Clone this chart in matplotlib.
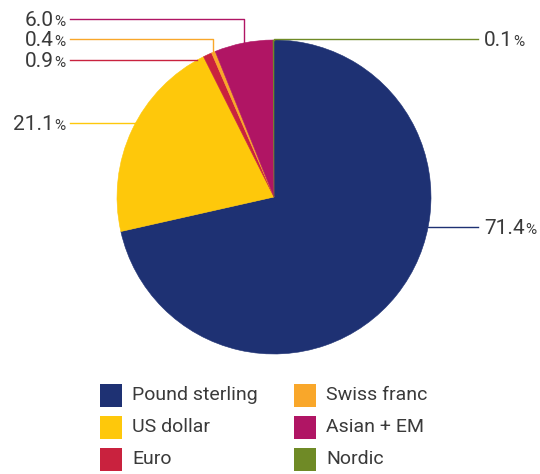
import numpy as np
import matplotlib.pyplot as plt
from matplotlib.patches import Rectangle

# données (part en %)
labels = ["Pound sterling", "US dollar", "Euro", "Swiss franc", "Asian + EM", "Nordic"]
values = [71.4, 21.1, 0.9, 0.4, 6.0, 0.1]
colors = ["#1e3173", "#fec80b", "#c9223e", "#f9a72a", "#b01564", "#6f8a26"]
pct_txt = ["71.4", "21.1", "0.9", "0.4", "6.0", "0.1"]

plt.rcParams['font.family'] = ['Roboto', 'DejaVu Sans']
TXT = "#3a3a3a"

W, H = 540, 474
fig = plt.figure(figsize=(W / 100, H / 100), dpi=100)
ax = fig.add_axes([0, 0, 1, 1])

cx, cy, r = 274, H - 197, 157
wedges, _ = ax.pie(values, colors=colors, startangle=90, counterclock=False,
                   center=(cx, cy), radius=r)
for w, c in zip(wedges, colors):
    w.set_edgecolor(c)
    w.set_linewidth(0.4)
ax.set_xlim(0, W)
ax.set_ylim(0, H)
ax.axis('off')

renderer = fig.canvas.get_renderer()


def yy(y):
    return H - y


def edge_x(y, side):
    d = cy - yy(y)
    return cx + side * np.sqrt(max(r * r - d * d, 0))


def mid_point(i):
    w = wedges[i]
    a = np.deg2rad((w.theta1 + w.theta2) / 2)
    return cx + r * np.cos(a), cy + r * np.sin(a)


def label_right(x, y, num):
    b = yy(y) - 7
    t = ax.text(x, b, num, fontsize=15, color=TXT, ha='left', va='baseline')
    bb = t.get_window_extent(renderer)
    ax.text(bb.x1 + 0.5, b, "%", fontsize=11, color=TXT, ha='left', va='baseline')


def label_left(x, y, num):
    b = yy(y) - 7
    p = ax.text(x, b, "%", fontsize=11, color=TXT, ha='right', va='baseline')
    bb = p.get_window_extent(renderer)
    ax.text(bb.x0 - 0.5, b, num, fontsize=15, color=TXT, ha='right', va='baseline')


lw = 1.0
# 71.4 a droite
y = 227
ax.plot([edge_x(y, 1), 478], [yy(y), yy(y)], color=colors[0], lw=lw)
label_right(484, y, pct_txt[0])

# 0.1 en haut a droite
mx, my = mid_point(5)
y = 39
ax.plot([mx, mx, 478], [my, yy(y), yy(y)], color=colors[5], lw=lw)
label_right(484, y, pct_txt[5])

# 21.1 et 0.9 : traits horizontaux
for i, y in [(1, 123), (2, 60)]:
    ax.plot([70, edge_x(y, -1)], [yy(y), yy(y)], color=colors[i], lw=lw)
    label_left(65, y, pct_txt[i])

# 0.4 et 6.0 : traits coudes
for i, y in [(3, 39), (4, 19)]:
    mx, my = mid_point(i)
    ax.plot([70, mx, mx], [yy(y), yy(y), my], color=colors[i], lw=lw)
    label_left(65, y, pct_txt[i])

# legende
for k, lab in enumerate(labels):
    col, row = divmod(k, 3)
    x0 = 100 + col * 194
    yc = 395 + row * 32
    ax.add_patch(Rectangle((x0, yy(yc) - 11.5), 22, 23, color=colors[k], lw=0))
    ax.text(x0 + 32, yy(yc), lab, fontsize=14, color=TXT, ha='left', va='center')

plt.savefig("out.png", dpi=100)
